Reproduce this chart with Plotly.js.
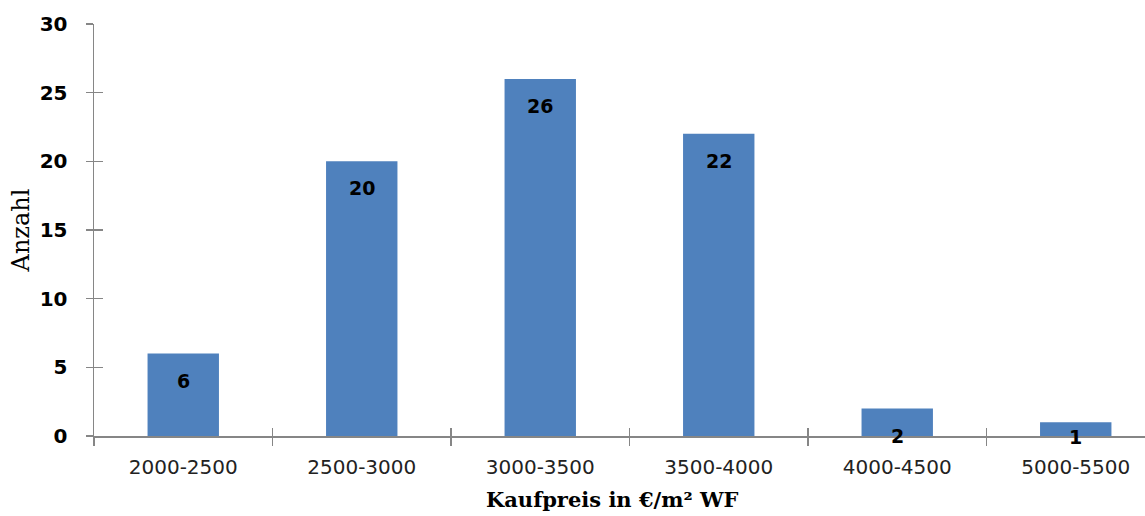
<!DOCTYPE html>
<html>
<head>
<meta charset="utf-8">
<script src="https://cdn.plot.ly/plotly-3.0.1.min.js"></script>
<style>html,body{margin:0;padding:0;background:#fff;}#chart{width:1145px;height:516px;}</style>
</head>
<body>
<div id="chart"></div>
<script>
var categories = ["2000-2500", "2500-3000", "3000-3500", "3500-4000", "4000-4500", "5000-5500"];
var counts = [6, 20, 26, 22, 2, 1];
var yTicks = [0, 5, 10, 15, 20, 25, 30];
var xTitle = "Kaufpreis in €/m² WF";
var yTitle = "Anzahl";

var barColor = "#4F81BD";
var axisColor = "#868686";

var trace = {
  type: "bar",
  x: categories,
  y: counts,
  width: 0.4,
  marker: {color: barColor},
  hoverinfo: "none"
};

var labelAnnotations = counts.map(function (v, i) {
  return {
    x: categories[i], y: v, xref: "x", yref: "y",
    text: String(v), showarrow: false,
    yanchor: "middle", yshift: Math.max(-27, -(v * 13.73) - 1),
    font: {family: "DejaVu Sans", size: 19, color: "#000", weight: "bold"}
  };
});

var layout = {
  width: 1145, height: 516,
  margin: {l: 94, r: 0, t: 24, b: 80},
  paper_bgcolor: "#fff", plot_bgcolor: "#fff",
  showlegend: false,
  bargap: 0.6,
  xaxis: {
    type: "category",
    range: [-0.5, 5.388],
    tickson: "boundaries",
    ticks: "outside", ticklen: 8, tickcolor: axisColor, tickwidth: 1.5,
    showline: true, linecolor: axisColor, linewidth: 1.5,
    showgrid: false, zeroline: false,
    ticklabelstandoff: 12,
    tickfont: {family: "DejaVu Sans", size: 20, color: "#222"},
    fixedrange: true
  },
  xaxis2: {
    type: "category", overlaying: "x", matches: "x",
    range: [-0.5, 5.388],
    tickson: "boundaries", ticks: "inside", ticklen: 8, tickcolor: axisColor, tickwidth: 1.5,
    showticklabels: false, showline: false, showgrid: false, zeroline: false
  },
  yaxis: {
    range: [0, 30],
    tickvals: yTicks,
    ticks: "outside", ticklen: 7, tickcolor: axisColor, tickwidth: 1.5,
    showline: true, linecolor: axisColor, linewidth: 1.5,
    showgrid: false, zeroline: false,
    ticklabelstandoff: 14,
    tickfont: {family: "DejaVu Sans", size: 20, color: "#000", weight: "bold"},
    title: {text: yTitle, standoff: 3, font: {family: "DejaVu Serif", size: 24, color: "#000"}},
    fixedrange: true
  },
  yaxis2: {
    range: [0, 30], overlaying: "y", anchor: "x",
    tickvals: yTicks,
    ticks: "inside", ticklen: 9, tickcolor: axisColor, tickwidth: 1.5,
    showticklabels: false, showline: false, showgrid: false, zeroline: false
  },
  annotations: labelAnnotations.concat([{
    xref: "paper", yref: "paper", x: 0.493, y: -0.155,
    xanchor: "center", yanchor: "middle", showarrow: false,
    text: xTitle,
    font: {family: "DejaVu Serif", size: 21, color: "#000", weight: "bold"}
  }])
};

var ghost = {type: "scatter", x: [categories[0]], y: [0], xaxis: "x2", yaxis: "y2", mode: "markers", marker: {opacity: 0}, hoverinfo: "none"};

Plotly.newPlot("chart", [trace, ghost], layout, {displayModeBar: false, staticPlot: true});
</script>
</body>
</html>
